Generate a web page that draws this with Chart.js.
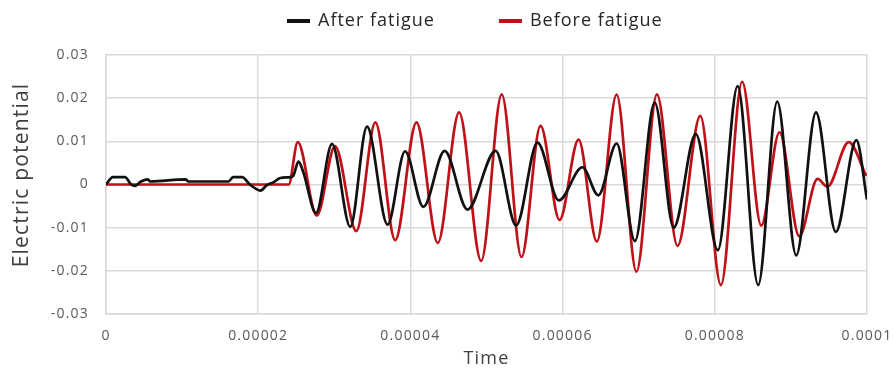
<!DOCTYPE html>
<html>
<head>
<meta charset="utf-8">
<script src="https://cdn.jsdelivr.net/npm/chart.js@4.4.1/dist/chart.umd.min.js"></script>
<style>
  html, body { margin: 0; padding: 0; background: #fff; }
  #wrap { width: 893px; height: 371px; position: relative; }
</style>
</head>
<body>
<div id="wrap"><canvas id="chart"></canvas></div>
<script>
// Time in microseconds (peaks, troughs, steps)
const afterTime = [0, 0.9, 2.5, 3.3, 3.8, 4.6, 5.5, 5.8, 10.5, 10.8, 16.1, 16.7, 17.9, 18.9, 20.3, 21.1, 22.0, 22.9, 24.2, 24.6,
  25.3, 25.9, 27.6, 29.7, 32.1, 34.3, 37.0, 39.3, 41.7, 44.5, 47.5, 51.2, 53.9, 56.7, 59.5, 62.6, 64.7, 67.1, 69.5,
  72.1, 74.6, 77.5, 80.4, 83.0, 85.7, 88.2, 90.7, 93.3, 95.9, 98.6, 100];
const afterValue = [0, 0.0017, 0.0017, 0, -0.0003, 0.0007, 0.0012, 0.0007, 0.0012, 0.0007, 0.0007, 0.0017, 0.0017, 0, -0.0014, -0.0002, 0.0005, 0.0015, 0.0017, 0.002,
  0.0053, 0.003, -0.0066, 0.0094, -0.0098, 0.0134, -0.0093, 0.0077, -0.0052, 0.0078, -0.0058, 0.0078, -0.0095, 0.0097, -0.0037, 0.0040, -0.0025, 0.0095, -0.0131,
  0.0190, -0.0100, 0.0117, -0.0152, 0.0228, -0.0233, 0.0192, -0.0164, 0.0167, -0.0110, 0.0103, -0.0035];

const beforeTime = [0, 24.0, 25.2, 27.7, 30.1, 32.9, 35.4, 38.0, 40.8, 43.6, 46.4, 49.3, 52.0, 54.6, 57.1, 59.6, 62.1, 64.5,
  67.1, 69.7, 72.4, 75.1, 78.1, 80.8, 83.6, 86.1, 88.5, 91.1, 93.5, 94.8, 97.6, 99.9];
const beforeValue = [0, 0, 0.0098, -0.0072, 0.0089, -0.0108, 0.0144, -0.0129, 0.0144, -0.0135, 0.0167, -0.0177, 0.0209, -0.0168, 0.0136, -0.0082, 0.0104, -0.0132,
  0.0208, -0.0202, 0.0209, -0.0142, 0.0159, -0.0233, 0.0238, -0.0095, 0.0121, -0.0120, 0.0013, -0.0005, 0.0098, 0.0020];

const seriesNames = ['After fatigue', 'Before fatigue'];
const seriesColors = ['#111111', '#bf1218'];
const xTickLabels = ['0', '0.00002', '0.00004', '0.00006', '0.00008', '0.0001'];
const yTickLabels = ['-0.03', '-0.02', '-0.01', '0', '0.01', '0.02', '0.03'];
const yTitle = 'Electric potential';

const toPoints = (ts, vs) => ts.map((t, i) => ({ x: t, y: vs[i] }));

// wide letter spacing like the original's text
const spacing = {
  id: 'spacing',
  beforeDraw(chart) { chart.ctx.letterSpacing = '1.2px'; },
  afterDraw(chart) { chart.ctx.letterSpacing = '0px'; }
};

// Legend at the top with a wide gap between entries, plus the y title
// (the original sits it a little above the plot's middle)
const extras = {
  id: 'extras',
  afterDraw(chart) {
    const ctx = chart.ctx;
    ctx.save();
    ctx.letterSpacing = '1px';
    ctx.font = '18px "Open Sans"';
    ctx.textBaseline = 'middle';
    const sample = 23, gap = 8, between = 64;
    let x = 287;
    const y = 21;
    seriesNames.forEach((name, i) => {
      ctx.fillStyle = seriesColors[i];
      ctx.fillRect(x, y - 2, sample, 4);
      ctx.fillStyle = '#262626';
      ctx.fillText(name, x + sample + gap, y);
      x += sample + gap + ctx.measureText(name).width + between;
    });

    ctx.letterSpacing = '1.2px';
    ctx.font = '21px "Open Sans"';
    ctx.fillStyle = '#404040';
    ctx.textAlign = 'center';
    ctx.translate(22, 175);
    ctx.rotate(-Math.PI / 2);
    ctx.fillText(yTitle, 0, 0);
    ctx.restore();
  }
};

new Chart(document.getElementById('chart'), {
  type: 'line',
  data: {
    datasets: [
      { label: seriesNames[0], data: toPoints(afterTime, afterValue) },
      { label: seriesNames[1], data: toPoints(beforeTime, beforeValue) }
    ].map((d, i) => Object.assign(d, {
      borderColor: seriesColors[i],
      backgroundColor: seriesColors[i],
      borderWidth: 2.7,
      pointRadius: 0,
      cubicInterpolationMode: 'monotone',
      fill: false
    }))
  },
  options: {
    responsive: true,
    maintainAspectRatio: false,
    animation: false,
    layout: { padding: { top: 55, right: 26, left: 0, bottom: 0 } },
    plugins: {
      legend: { display: false },
      tooltip: { enabled: false }
    },
    scales: {
      x: {
        type: 'linear',
        min: 0,
        max: 100,
        afterBuildTicks: s => { s.ticks = xTickLabels.map((_, i) => ({ value: i * 20 })); },
        afterFit: s => { s.height = 57; s.paddingLeft = 0; s.paddingRight = 0; },
        ticks: {
          callback: (v, i) => xTickLabels[i],
          color: '#595959',
          font: { family: 'Open Sans', size: 14 },
          padding: 14,
          maxRotation: 0
        },
        grid: { color: '#d9d9d9', lineWidth: 1.5, drawTicks: false },
        border: { color: '#d9d9d9', width: 1.5 },
        title: {
          display: true,
          text: 'Time',
          color: '#404040',
          font: { family: 'Open Sans', size: 18 },
          padding: { top: 0, bottom: 1 }
        }
      },
      y: {
        min: -0.03,
        max: 0.03,
        afterBuildTicks: s => { s.ticks = yTickLabels.map(l => ({ value: parseFloat(l) })); },
        afterFit: s => { s.width = 106; },
        ticks: {
          callback: (v, i) => yTickLabels[i],
          color: '#595959',
          font: { family: 'Open Sans', size: 14 },
          padding: 17
        },
        grid: { color: '#d9d9d9', lineWidth: 1.5, drawTicks: false },
        border: { color: '#d9d9d9', width: 1.5 },
        title: { display: false }
      }
    }
  },
  plugins: [spacing, extras]
});
</script>
</body>
</html>
